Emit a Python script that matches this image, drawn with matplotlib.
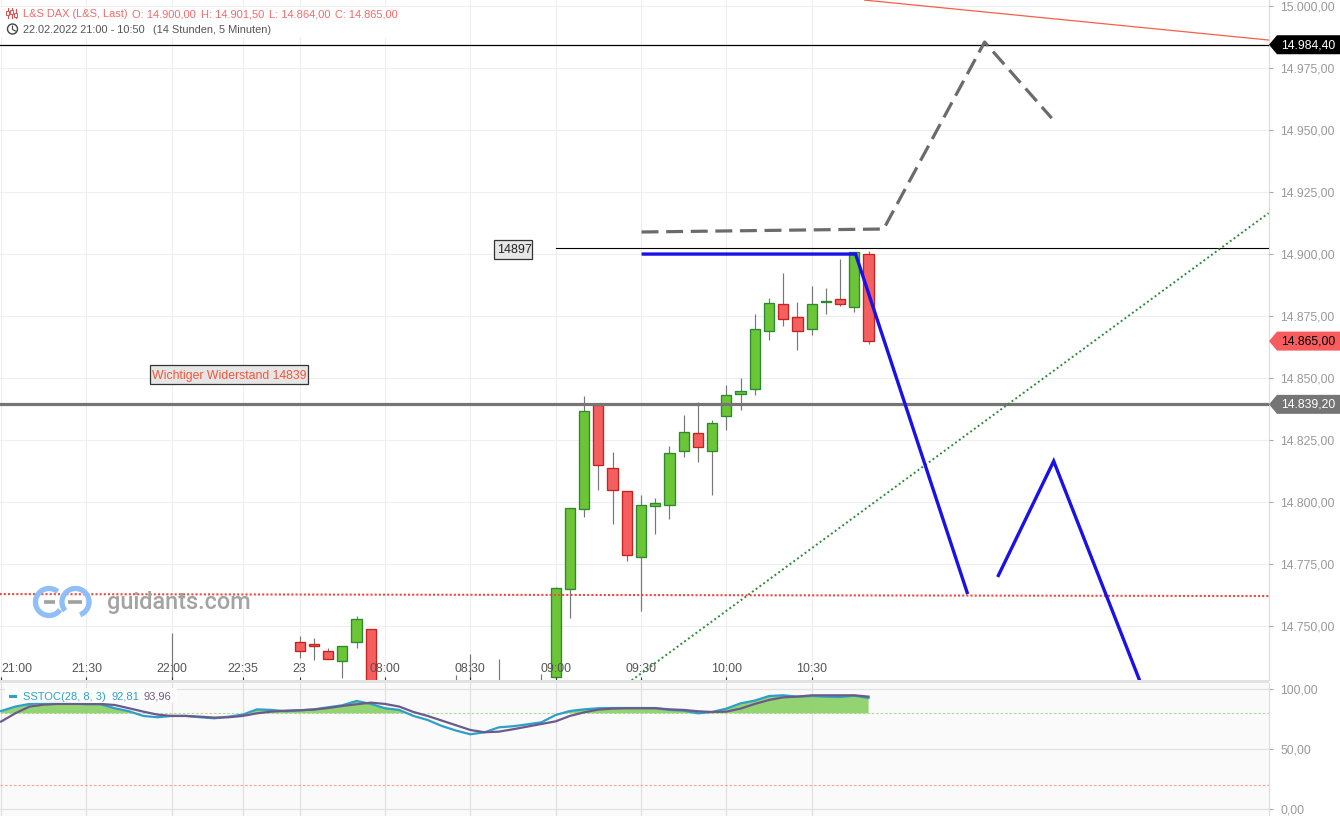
import matplotlib
matplotlib.use("Agg")
import matplotlib.pyplot as plt
import numpy as np
from matplotlib.patches import Rectangle, Polygon, Arc, Circle

plt.rcParams['font.family'] = ['Liberation Sans', 'DejaVu Sans']

W, H = 1340, 816

# ---- candles: bar index, open, high, low, close
bar_idx = [12, 21, 22, 23, 24, 25, 26, 32, 33, 35, 38,
           39, 40, 41, 42, 43, 44, 45, 46, 47, 48, 49, 50,
           51, 52, 53, 54, 55, 56, 57, 58, 59, 60, 61]
opens = [14720, 14743.8, 14743.0, 14740.2, 14736.0, 14743.8, 14749.1, 14720, 14720, 14720, 14720,
         14729.6, 14765.2, 14797.1, 14839.3, 14814.0, 14804.7, 14778.1, 14798.5, 14798.9, 14820.8, 14828.1, 14820.8,
         14834.6, 14843.8, 14845.8, 14869.2, 14880.1, 14874.9, 14870.0, 14880.6, 14882.1, 14878.9, 14900.0]
highs = [14747.2, 14746.0, 14745.2, 14741.1, 14742.2, 14754.0, 14749.1, 14730.2, 14738.7, 14736.7, 14730.6,
         14766.0, 14797.9, 14842.7, 14839.3, 14820.2, 14804.7, 14802.8, 14801.9, 14822.6, 14835.1, 14840.3, 14833.1,
         14847.2, 14850.0, 14875.8, 14882.3, 14892.3, 14880.6, 14887.1, 14886.3, 14898.0, 14901.1, 14901.5]
lows = [14700, 14737.1, 14736.3, 14736.8, 14729.2, 14741.2, 14700, 14700, 14700, 14700, 14700,
        14729.6, 14753.3, 14794.1, 14805.0, 14791.2, 14776.3, 14756.2, 14787.2, 14793.3, 14818.3, 14816.2, 14803.0,
        14829.2, 14837.2, 14843.3, 14865.4, 14871.1, 14861.4, 14867.5, 14876.0, 14879.2, 14876.8, 14864.0]
closes = [14725, 14740.2, 14742.1, 14736.8, 14742.2, 14753.1, 14710, 14725, 14725, 14725, 14725,
          14765.6, 14797.9, 14837.0, 14815.2, 14805.1, 14778.9, 14799.1, 14799.9, 14820.0, 14828.5, 14822.1, 14832.1,
          14843.4, 14845.0, 14870.0, 14880.5, 14874.1, 14869.2, 14880.1, 14881.0, 14880.1, 14901.1, 14865.0]

# ---- drawn lines (bar index, price)
level_resist = 14839.5
level_top = 14984.5
level_14897 = 14902.5
red_dot_x, red_dot_y = [-0.1, 89.13], [14763.0, 14762.2]
red_thin_x, red_thin_y = [60.72, 89.13], [15002.5, 14986.4]
green_x, green_y = [44.34, 89.13], [14728.2, 14916.6]
gray_x, gray_y = [45.04, 62.06, 69.16, 73.88], [14909.0, 14910.2, 14985.6, 14954.9]
blue1_x, blue1_y = [45.04, 60.09, 67.97], [14900.1, 14900.1, 14763.0]
blue2_x, blue2_y = [70.08, 74.02, 80.06], [14769.9, 14816.6, 14728.2]
black_x = [38.99, 89.13]

# ---- stochastic
sto_k = [81.9, 85.6, 87.8, 88.9, 89.4, 88.3, 87.5, 87.5, 84.2, 81.7, 77.8, 76.7, 77.8, 77.8, 76.7, 75.8,
         77.2, 78.9, 83.3, 82.8, 81.7, 82.5, 83.3, 85.0, 86.7, 90.3, 87.8, 84.2, 82.8, 77.8, 74.4, 69.4,
         65.6, 62.5, 64.2, 68.3, 69.2, 70.8, 72.5, 78.6, 81.9, 83.3, 84.2, 84.4, 84.4, 84.4, 84.4, 82.8,
         82.2, 80.0, 81.1, 83.9, 88.3, 90.6, 94.4, 95.0, 93.9, 94.4, 93.9, 93.6, 94.7, 92.8]
sto_d = [73.1, 80.0, 85.6, 87.2, 87.8, 87.8, 87.8, 87.8, 86.9, 84.2, 81.4, 78.9, 77.8, 77.8, 77.2, 76.4,
         76.7, 77.8, 80.0, 81.4, 82.2, 82.5, 83.1, 84.4, 86.1, 87.5, 88.9, 87.8, 85.6, 81.1, 77.8, 73.9,
         70.0, 66.1, 64.2, 64.7, 66.7, 68.9, 71.1, 73.3, 77.8, 80.8, 83.1, 83.9, 84.2, 84.2, 84.2, 83.3,
         82.8, 81.7, 81.1, 81.4, 83.9, 87.8, 91.1, 93.3, 93.9, 95.0, 95.0, 95.0, 95.0, 93.9]

# ---- axis ticks
time_idx = [0, 6, 12, 17, 21, 27, 33, 39, 45, 51, 57]
time_labels = ['21:00', '21:30', '22:00', '22:35', '23', '08:00', '08:30', '09:00', '09:30', '10:00', '10:30']
price_ticks = [14750, 14775, 14800, 14825, 14850, 14875, 14900, 14925, 14950, 14975, 15000]
price_labels = ['14.750,00', '14.775,00', '14.800,00', '14.825,00', '14.850,00', '14.875,00',
                '14.900,00', '14.925,00', '14.950,00', '14.975,00', '15.000,00']
sto_ticks = [0, 50, 100]
sto_labels = ['0,00', '50,00', '100,00']
sto_guides = [80, 20]

XLIM = (-0.075, 89.16)
YLIM = (14728.35, 15002.54)
SLIM = (-5.58, 105.25)

GRID = '#eeeeee'
AXC = '#dcdcdc'
TICKC = '#999999'

fig = plt.figure(figsize=(W / 100, H / 100), dpi=100, facecolor='white')
ax = fig.add_axes([0, (H - 680) / H, 1269 / W, 680 / H])
ax2 = fig.add_axes([0, 0, 1269 / W, (H - 683) / H], facecolor='#fafafa')
ov = fig.add_axes([0, 0, 1, 1], facecolor='none')
ov.set_xlim(0, W)
ov.set_ylim(H, 0)
ov.axis('off')
ov.set_zorder(10)

# main axes
ax.set_xlim(*XLIM)
ax.set_ylim(*YLIM)
ax.set_axisbelow(False)
for s in ('top', 'left', 'bottom'):
    ax.spines[s].set_visible(False)
ax.spines['right'].set_color(AXC)
ax.yaxis.tick_right()
ax.set_yticks(price_ticks, price_labels)
ax.set_xticks(time_idx, time_labels)
ax.tick_params(axis='y', length=3, width=0.8, color='#aaaaaa', labelcolor=TICKC, labelsize=8.8, pad=5.2)
ax.tick_params(axis='x', direction='in', length=2.4, width=0.8, color='#333333', labelcolor='#555555',
               labelsize=8.9, pad=-12.0)
ax.get_xticklabels()[0].set_ha('left')
for t in price_ticks:
    ax.axhline(t, color=GRID, lw=0.8, zorder=0)
for t in time_idx:
    ax.axvline(t, color=GRID, lw=0.8, zorder=0)

# candles
for i, o, h, l, c in zip(bar_idx, opens, highs, lows, closes):
    up = c >= o
    ax.vlines(i, l, h, color='#777777', lw=0.85, zorder=1)
    ax.bar(i, abs(c - o), bottom=min(o, c), width=0.72,
           color='#6cc437' if up else '#f45f5f',
           edgecolor='#2a8a2f' if up else '#c92020', lw=0.95, zorder=2)

# drawn lines
ax.axhline(level_top, color='black', lw=0.9, zorder=4)
ax.plot(red_thin_x, red_thin_y, color='#f4604a', lw=0.9, zorder=4)
ax.plot(black_x, [level_14897, level_14897], color='black', lw=0.8, zorder=4)
ax.axhline(level_resist, color='#757575', lw=2.3, zorder=4)
ax.plot(red_dot_x, red_dot_y, color='#f0483c', lw=1.5, ls=(0, (1, 1)), zorder=4)
ax.plot(green_x, green_y, color='#2e8b3a', lw=1.4, ls=(0, (1, 1.4)), zorder=4)
ax.plot(gray_x, gray_y, color='#6b6b6b', lw=2.3, ls=(0, (5.3, 2.4)), dash_capstyle='butt', zorder=5)
ax.plot(blue1_x, blue1_y, color='#1a10e8', lw=2.4, zorder=6, solid_joinstyle='miter', solid_capstyle='butt')
ax.plot(blue2_x, blue2_y, color='#1a10e8', lw=2.4, zorder=6, solid_joinstyle='miter', solid_capstyle='butt')

# lower panel
ax2.set_xlim(*XLIM)
ax2.set_ylim(*SLIM)
for s in ('top', 'left', 'bottom'):
    ax2.spines[s].set_visible(False)
ax2.spines['right'].set_color(AXC)
ax2.yaxis.tick_right()
ax2.set_yticks(sto_ticks, sto_labels)
ax2.set_xticks([])
ax2.tick_params(axis='y', length=3, width=0.8, color='#aaaaaa', labelcolor=TICKC, labelsize=8.8, pad=5.2)
for t in sto_ticks:
    ax2.axhline(t, color='#e0e0e0', lw=0.85, zorder=0)
for t in time_idx:
    ax2.axvline(t, color='#e0e0e0', lw=0.85, zorder=0)
ax2.axhline(sto_guides[0], color='#b5dca0', lw=0.8, ls=(0, (2.5, 1.5)), zorder=1)
ax2.axhline(sto_guides[1], color='#f2a8a8', lw=0.8, ls=(0, (2.5, 1.5)), zorder=1)
xs = np.arange(len(sto_k))
k = np.array(sto_k)
ax2.fill_between(xs, sto_guides[0], k, where=k >= sto_guides[0], interpolate=True,
                 color='#8fd16a', lw=0, alpha=0.95, zorder=2)
ax2.plot(xs, k, color='#2e9fcb', lw=1.6, zorder=3)
ax2.plot(xs, sto_d, color='#6b5b8a', lw=1.6, zorder=4)

# separator band
ov.add_patch(Rectangle((0, 680), 1269, 3, fc='#e2e2e2', ec='none'))

# header
ov.add_patch(Rectangle((0, 7), 403, 30, fc='white', ec='none'))
RED = '#f46a6a'
DARK = '#555555'
ov.text(23, 14.2, 'L&S DAX (L&S, Last)', color=RED, fontsize=7.9, va='center', ha='left')
ov.text(132, 14.2, 'O: 14.900,00', color=RED, fontsize=8, va='center', ha='left')
ov.text(201, 14.2, 'H: 14.901,50', color=RED, fontsize=8, va='center', ha='left')
ov.text(269, 14.2, 'L: 14.864,00', color=RED, fontsize=8, va='center', ha='left')
ov.text(335, 14.2, 'C: 14.865,00', color=RED, fontsize=7.9, va='center', ha='left')
ov.text(23, 30.2, '22.02.2022 21:00 - 10:50', color=DARK, fontsize=7.9, va='center', ha='left')
ov.text(153, 30.2, '(14 Stunden, 5 Minuten)', color=DARK, fontsize=7.9, va='center', ha='left')
# candle icon
for cx, y0, y1, b0, b1 in [(7.5, 8, 18, 11, 15), (11.5, 8, 18, 10, 14), (15.5, 9, 18, 13, 17)]:
    ov.plot([cx, cx], [y0, y1], color='#e05050', lw=0.8)
    ov.add_patch(Rectangle((cx - 1.3, b0), 2.6, b1 - b0, fc='white', ec='#e05050', lw=0.7, zorder=3))
# clock icon
ov.add_patch(Circle((12.5, 29), 5, fc='none', ec='#444444', lw=1))
ov.plot([12.5, 12.5, 15.5], [26, 29.5, 31], color='#444444', lw=0.8)

# logo
ov.add_patch(Arc((49, 602), 27, 27, theta1=35, theta2=310, ec='#8fbff8', lw=3.8))
ov.add_patch(Arc((75.5, 602), 27, 27, theta1=-220, theta2=70, ec='#8fbff8', lw=3.8))
ov.plot([44, 55], [602, 602], color='#a0a0a0', lw=2.6, solid_capstyle='butt')
ov.plot([68, 82], [602, 602], color='#a0a0a0', lw=2.6, solid_capstyle='butt')
ov.text(107, 602, 'guidants.com', color='#a3a3a3', family='Roboto', weight='medium', fontsize=16.9,
        va='center', ha='left')

# price tags
def py(p):
    return (YLIM[1] - p) / (YLIM[1] - YLIM[0]) * 680

def tag(p, text, fc, tc):
    y = py(p)
    ov.add_patch(Polygon([(1269, y), (1277, y - 9.5), (1340, y - 9.5), (1340, y + 9.5), (1277, y + 9.5)],
                         closed=True, fc=fc, ec='none'))
    ov.text(1281, y + 0.5, text, color=tc, fontsize=8.8, va='center', ha='left')

tag(level_top, '14.984,40', 'black', 'white')
tag(closes[-1], '14.865,00', '#f85c5c', 'black')
tag(level_resist, '14.839,20', '#757575', 'white')

# annotation boxes
ov.add_patch(Rectangle((493.5, 239.8), 38, 19.2, fc='#e6e6e6', ec='#333333', lw=0.9))
ov.text(514, 250, '14897', color='#222222', fontsize=9, va='center', ha='center')
ov.add_patch(Rectangle((150.3, 364.8), 157.2, 19.2, fc='#e6e6e6', ec='#333333', lw=0.9))
ov.text(229.5, 375.5, 'Wichtiger Widerstand 14839', color='#f4563a', fontsize=8.8, va='center', ha='center')

# legend of lower panel
ov.add_patch(Rectangle((5, 688), 172, 15, fc='white', ec='none', alpha=0.85))
ov.add_patch(Rectangle((9, 695), 8, 2.5, fc='#2e9fcb', ec='none'))
ov.text(23, 696.5, 'SSTOC(28, 8, 3)', color='#2e9fcb', fontsize=8, va='center', ha='left')
ov.text(111, 696.5, '92,81', color='#2e9fcb', fontsize=8, va='center', ha='left')
ov.text(144, 696.5, '93,96', color='#6b5b8a', fontsize=8, va='center', ha='left')

fig.savefig('out.png', dpi=100, facecolor='white')
